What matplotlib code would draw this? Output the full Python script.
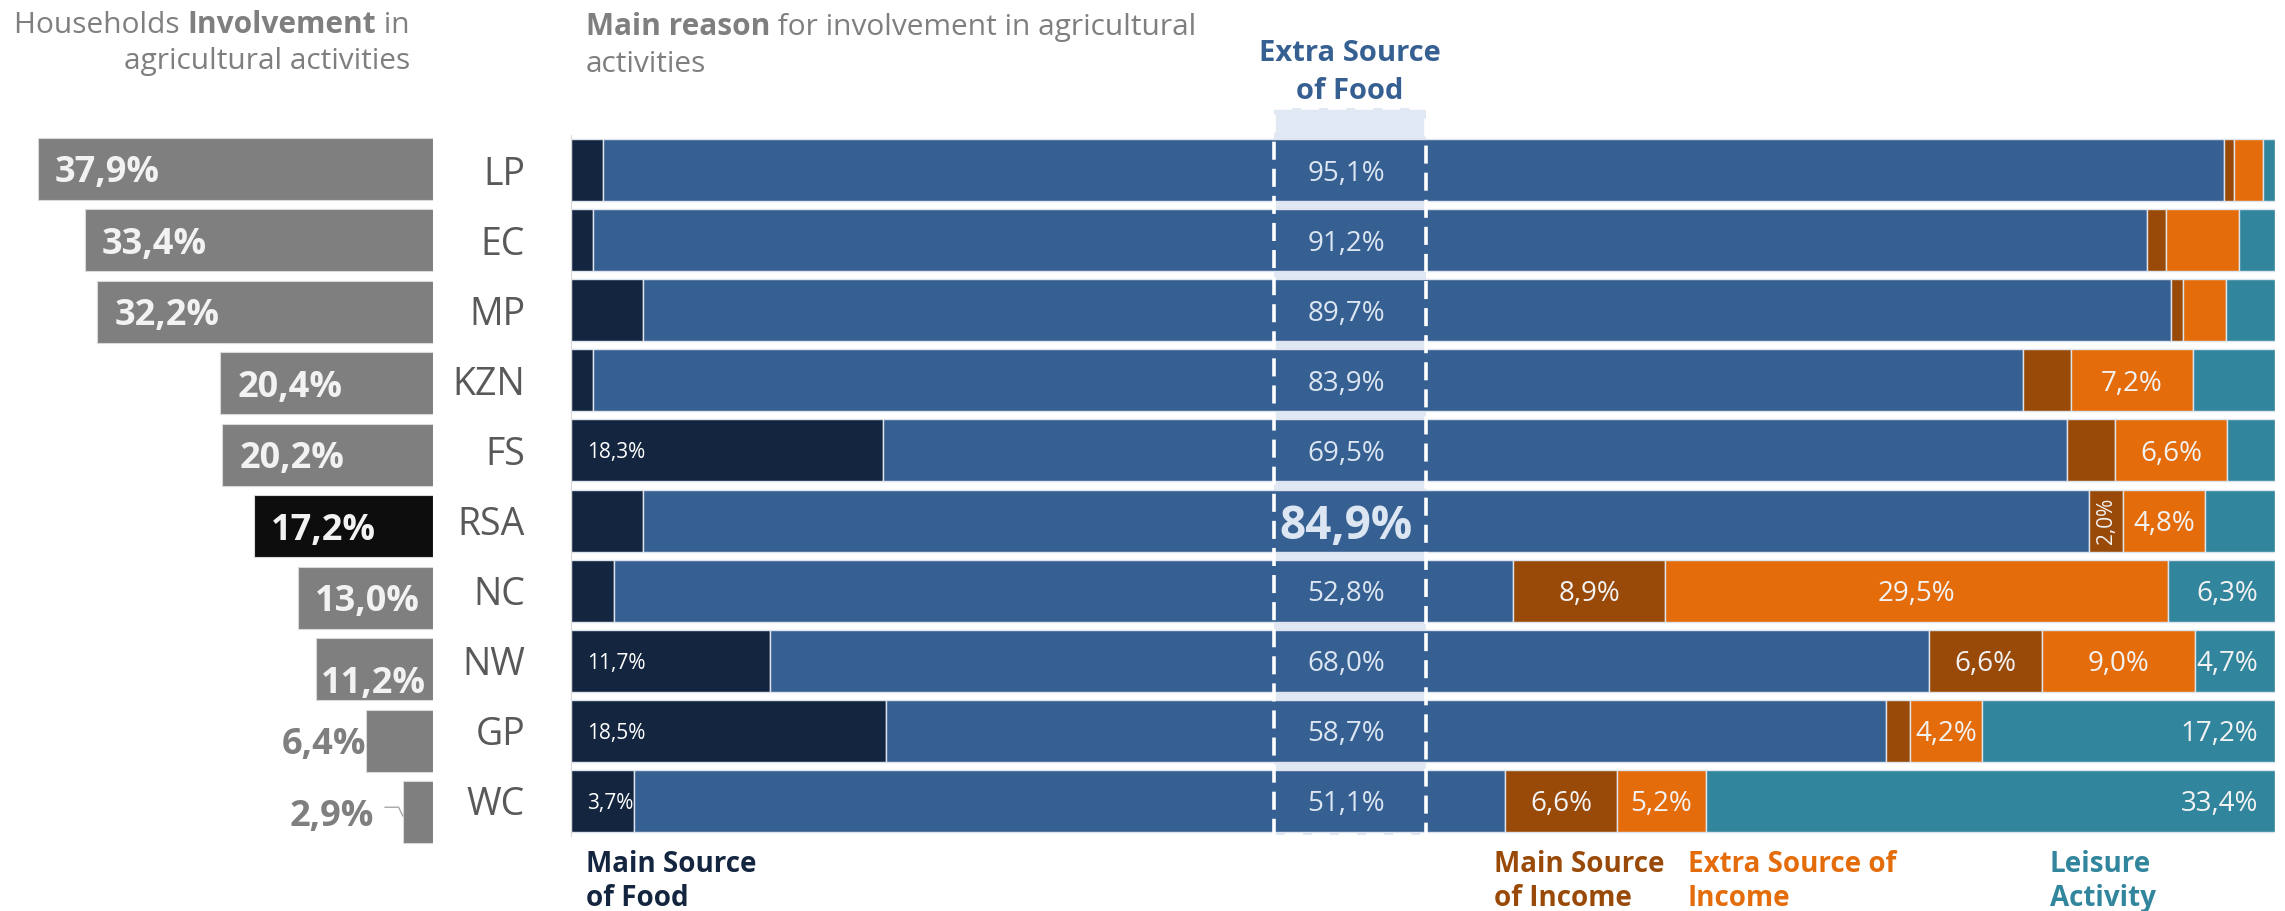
import numpy as np
import matplotlib
matplotlib.use('Agg')
import matplotlib.pyplot as plt
from matplotlib.patches import Rectangle

plt.rcParams['font.family'] = ['Open Sans', 'DejaVu Sans']

provinces = ['LP', 'EC', 'MP', 'KZN', 'FS', 'RSA', 'NC', 'NW', 'GP', 'WC']
involvement = [37.9, 33.4, 32.2, 20.4, 20.2, 17.2, 13.0, 11.2, 6.4, 2.9]

# reasons for involvement, % of involved households (each row sums to 100)
main_food = [1.9, 1.3, 4.2, 1.3, 18.3, 4.2, 2.5, 11.7, 18.5, 3.7]
extra_food = [95.1, 91.2, 89.7, 83.9, 69.5, 84.9, 52.8, 68.0, 58.7, 51.1]
main_income = [0.6, 1.1, 0.7, 2.8, 2.8, 2.0, 8.9, 6.6, 1.4, 6.6]
extra_income = [1.7, 4.3, 2.5, 7.2, 6.6, 4.8, 29.5, 9.0, 4.2, 5.2]
leisure = [0.7, 2.1, 2.9, 4.8, 2.8, 4.1, 6.3, 4.7, 17.2, 33.4]

# which segments get a value label
show_main_food = ['FS', 'NW', 'GP', 'WC']
show_main_income = ['RSA', 'NC', 'NW', 'WC']
show_extra_income = ['KZN', 'FS', 'RSA', 'NC', 'NW', 'GP', 'WC']
show_leisure = ['NC', 'NW', 'GP', 'WC']

C_MAIN_FOOD = '#13253f'
C_EXTRA_FOOD = '#376092'
C_MAIN_INC = '#9a4a08'
C_EXTRA_INC = '#e46c0a'
C_LEISURE = '#31859c'
C_BAND = '#dfe8f3'
GREY = '#7f7f7f'
LABEL_LIGHT = '#f2f2f2'

W, H = 2285, 911
fig = plt.figure(figsize=(W / 100, H / 100), dpi=100)


def box(l, t, r, b):
    return [l / W, 1 - b / H, (r - l) / W, (b - t) / H]


def ftext(px, py, s, **kw):
    return fig.text(px / W, 1 - py / H, s, **kw)


def pct(v):
    return f'{v:.1f}%'.replace('.', ',')


y = np.arange(len(provinces))

# ---- left panel: share of households involved
ax_l = fig.add_axes(box(0, 133, 433, 848))
bar_cols = ['#0d0d0d' if p == 'RSA' else GREY for p in provinces]
ax_l.barh(y, involvement, height=0.87, color=bar_cols, edgecolor='#d9d9d9', linewidth=0.8)
ax_l.set_xlim(41.55, 0)
ax_l.set_ylim(9.5, -0.5)
ax_l.axis('off')

for i, v in enumerate(involvement):
    if v >= 12:
        ax_l.text(v - 1.63, i, pct(v), ha='left', va='center_baseline',
                  fontsize=26, fontweight='bold', color=LABEL_LIGHT)
    elif v >= 10:
        ax_l.text(v - 0.4, i + 0.14, pct(v), ha='left', va='center_baseline',
                  fontsize=26, fontweight='bold', color=LABEL_LIGHT)
    else:
        off = 0.0 if v > 5 else 2.8
        ax_l.text(v + off, i, pct(v), ha='right', va='center_baseline',
                  fontsize=26, fontweight='bold', color=GREY)
        if off:
            ax_l.plot([v + 1.7, v + 0.4, v], [i - 0.07, i - 0.07, i + 0.05],
                      color='#a6a6a6', lw=1)

# ---- right panel: stacked reasons
ax_r = fig.add_axes(box(571, 135, 2275, 836))
series = [main_food, extra_food, main_income, extra_income, leisure]
colors = [C_MAIN_FOOD, C_EXTRA_FOOD, C_MAIN_INC, C_EXTRA_INC, C_LEISURE]
left = np.zeros(len(provinces))
starts = []
for vals, col in zip(series, colors):
    starts.append(left.copy())
    ax_r.barh(y, vals, left=left, height=0.885, color=col,
              edgecolor='#dde4ed', linewidth=1, zorder=2)
    left += np.array(vals)

ax_r.set_xlim(0, 100)
ax_r.set_ylim(9.5, -0.5)
ax_r.set_xticks([])
ax_r.set_yticks(y, provinces)
ax_r.tick_params(axis='y', length=0, pad=33, labelsize=27, labelcolor='#595959')
for s in ['top', 'right', 'bottom']:
    ax_r.spines[s].set_visible(False)
ax_r.spines['left'].set_color('#d9d9d9')

# highlighted "extra source of food" column
band_x, band_w = 41.25, 8.9
band_top, band_h = -0.885, 10.37
ax_r.add_patch(Rectangle((band_x, band_top), band_w, band_h, facecolor=C_BAND,
                         edgecolor='none', zorder=1, clip_on=False))
ax_r.add_patch(Rectangle((band_x, band_top), band_w, band_h, fill=False,
                         edgecolor='white', lw=2.6, linestyle=(0, (5, 2.5)),
                         zorder=4, clip_on=False))

for i, p in enumerate(provinces):
    if p in show_main_food:
        ax_r.text(0.95, i, pct(main_food[i]), ha='left', va='center_baseline',
                  fontsize=15, color='white', zorder=5)
    if p == 'RSA':
        ax_r.text(45.5, i, pct(extra_food[i]), ha='center', va='center_baseline',
                  fontsize=33, fontweight='bold', color='#dce6f2', zorder=5)
    else:
        ax_r.text(45.5, i, pct(extra_food[i]), ha='center', va='center_baseline',
                  fontsize=20, color='#dce6f2', zorder=5)
    if p in show_main_income:
        xc = starts[2][i] + main_income[i] / 2
        if main_income[i] < 3:
            ax_r.text(xc, i, pct(main_income[i]), ha='center', va='center',
                      rotation=90, fontsize=15, color=LABEL_LIGHT, zorder=5)
        else:
            ax_r.text(xc, i, pct(main_income[i]), ha='center', va='center_baseline',
                      fontsize=20, color=LABEL_LIGHT, zorder=5)
    if p in show_extra_income:
        xc = starts[3][i] + extra_income[i] / 2
        ax_r.text(xc, i, pct(extra_income[i]), ha='center', va='center_baseline',
                  fontsize=20, color=LABEL_LIGHT, zorder=5)
    if p in show_leisure:
        ax_r.text(99.0, i, pct(leisure[i]), ha='right', va='center_baseline',
                  fontsize=20, color=LABEL_LIGHT, zorder=5)

# ---- titles
t_in = ftext(410, 33, ' in', ha='right', va='baseline', fontsize=21.5, color=GREY)
t_inv = ax_l.annotate('Involvement', xy=(0, 0), xycoords=t_in, ha='right', va='bottom',
                      fontsize=21.5, fontweight='bold', color=GREY)
ax_l.annotate('Households ', xy=(0, 0), xycoords=t_inv, ha='right', va='bottom',
              fontsize=21.5, color=GREY)
ftext(410, 69, 'agricultural activities', ha='right', va='baseline', fontsize=21.5, color=GREY)

t_main = ftext(586, 35, 'Main reason', ha='left', va='baseline', fontsize=21.5,
               fontweight='bold', color=GREY)
ax_r.annotate(' for involvement in agricultural', xy=(1, 0), xycoords=t_main,
              ha='left', va='bottom', fontsize=21.5, color=GREY)
ftext(586, 72, 'activities', ha='left', va='baseline', fontsize=21.5, color=GREY)

ftext(1350, 61, 'Extra Source', ha='center', va='baseline', fontsize=21,
      fontweight='bold', color=C_EXTRA_FOOD)
ftext(1350, 99, 'of Food', ha='center', va='baseline', fontsize=21,
      fontweight='bold', color=C_EXTRA_FOOD)

# ---- category names under the bars
legend_items = [(586, 'Main Source', 'of Food', C_MAIN_FOOD),
                (1494, 'Main Source', 'of Income', C_MAIN_INC),
                (1688, 'Extra Source of', 'Income', C_EXTRA_INC),
                (2050, 'Leisure', 'Activity', C_LEISURE)]
for px, l1, l2, col in legend_items:
    ftext(px, 872, l1, ha='left', va='baseline', fontsize=20, fontweight='bold', color=col)
    ftext(px, 906, l2, ha='left', va='baseline', fontsize=20, fontweight='bold', color=col)

fig.savefig('out.png', dpi=100)
